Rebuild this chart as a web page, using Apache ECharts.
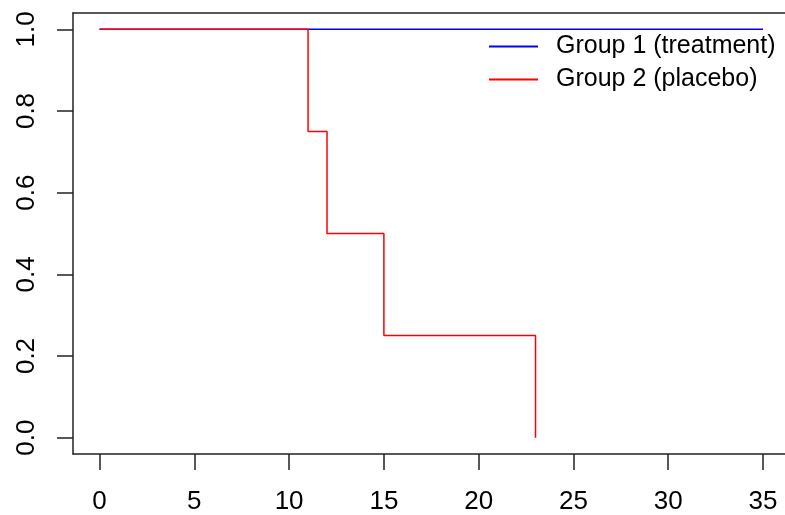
<!DOCTYPE html>
<html>
<head>
<meta charset="utf-8">
<script src="https://cdn.jsdelivr.net/npm/echarts@6/dist/echarts.min.js"></script>
<style>html,body{margin:0;padding:0;background:#fff;}#c{width:785px;height:515px;}</style>
</head>
<body>
<div id="c"></div>
<script>
var seriesNames = ['Group 1 (treatment)', 'Group 2 (placebo)'];
var group1Times = [0, 35];
var group1Surv = [1, 1];
var group2Times = [0, 11, 12, 15, 23];
var group2Surv = [1, 0.75, 0.5, 0.25, 0];
var xTicks = [0, 5, 10, 15, 20, 25, 30, 35];
var yTicks = [0, 0.2, 0.4, 0.6, 0.8, 1.0];

function pairs(xs, ys) { return xs.map(function (x, i) { return [x, ys[i]]; }); }

var font = 'Liberation Sans, Arial, sans-serif';
var lineCol = '#222';
var chart = echarts.init(document.getElementById('c'), null, { renderer: 'canvas' });
chart.setOption({
  animation: false,
  backgroundColor: '#fff',
  grid: { left: 73, top: 13, bottom: 61, right: 0, show: false },
  xAxis: [{
    type: 'value', min: -1.4, max: 36.16, position: 'bottom',
    axisLine: { show: true, onZero: false, lineStyle: { color: lineCol, width: 1.5 } },
    splitLine: { show: false },
    axisTick: { show: true, inside: false, length: 16, customValues: xTicks, lineStyle: { color: lineCol, width: 1.5 } },
    axisLabel: { customValues: xTicks, margin: 35, fontSize: 26, fontFamily: font, color: '#000' }
  }, {
    type: 'value', min: -1.4, max: 36.16, position: 'top',
    axisLine: { show: true, onZero: false, lineStyle: { color: lineCol, width: 1.5 } },
    splitLine: { show: false }, axisTick: { show: false }, axisLabel: { show: false }
  }],
  yAxis: {
    type: 'value', min: -0.04, max: 1.04,
    axisLine: { show: true, onZero: false, lineStyle: { color: lineCol, width: 1.5 } },
    splitLine: { show: false },
    axisTick: { show: true, inside: false, length: 16, customValues: yTicks, lineStyle: { color: lineCol, width: 1.5 } },
    axisLabel: { customValues: yTicks, rotate: 90, margin: 33, fontSize: 26, fontFamily: font, color: '#000',
      formatter: function (v) { return Number(v).toFixed(1); } }
  },
  legend: {
    orient: 'vertical', left: 483, top: 29, itemWidth: 49, itemHeight: 26, itemGap: 8, align: 'left',
    itemStyle: { opacity: 0 },
    textStyle: { fontSize: 25, fontFamily: font, color: '#000', padding: [0, 0, 0, 13] },
    data: seriesNames
  },
  series: [
    { name: seriesNames[0], type: 'line', step: 'end', symbol: 'none', data: pairs(group1Times, group1Surv),
      lineStyle: { color: '#0000FF', width: 1.5 }, itemStyle: { color: '#0000FF' } },
    { name: seriesNames[1], type: 'line', step: 'end', symbol: 'none', data: pairs(group2Times, group2Surv),
      lineStyle: { color: '#FF0000', width: 1.5 }, itemStyle: { color: '#FF0000' } }
  ]
});
</script>
</body>
</html>
